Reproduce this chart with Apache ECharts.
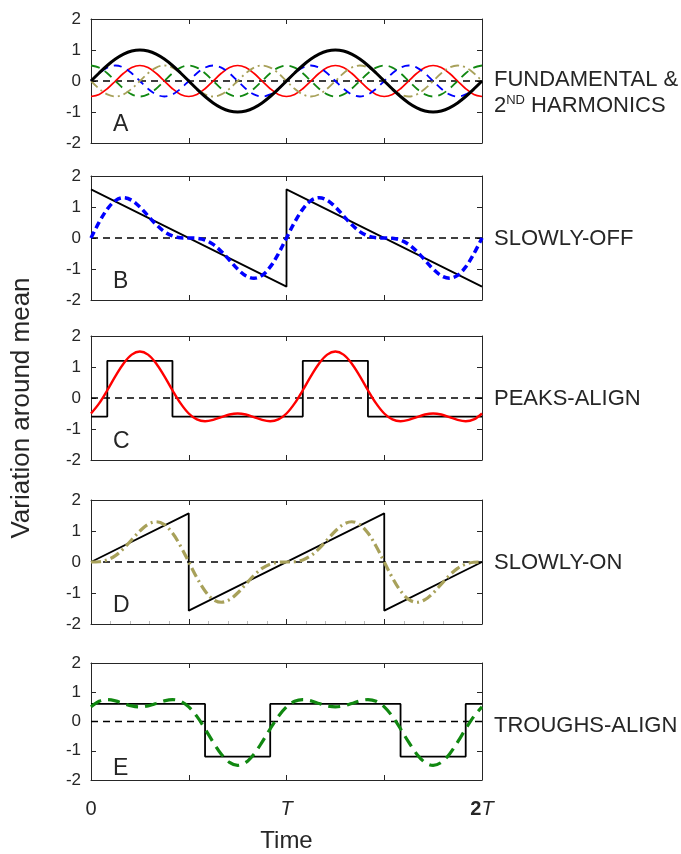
<!DOCTYPE html>
<html>
<head>
<meta charset="utf-8">
<script src="https://cdn.jsdelivr.net/npm/echarts@6/dist/echarts.min.js"></script>
<style>
  html, body { margin: 0; padding: 0; background: #fff; }
  #chart { width: 681px; height: 854px; }
</style>
</head>
<body>
<div id="chart"></div>
<script>
// Samples are taken every T/24 over two periods (0 .. 2T), time measured in units of T.
const samplesPerPeriod = 24;

// Panel A: fundamental and the four second-harmonic phases
const fundamental = [0, 0.259, 0.5, 0.707, 0.866, 0.966, 1, 0.966, 0.866, 0.707, 0.5, 0.259,
  0, -0.259, -0.5, -0.707, -0.866, -0.966, -1, -0.966, -0.866, -0.707, -0.5, -0.259,
  0, 0.259, 0.5, 0.707, 0.866, 0.966, 1, 0.966, 0.866, 0.707, 0.5, 0.259,
  0, -0.259, -0.5, -0.707, -0.866, -0.966, -1, -0.966, -0.866, -0.707, -0.5, -0.259, 0];
const harmonicRed = [-0.5, -0.433, -0.25, 0, 0.25, 0.433, 0.5, 0.433, 0.25, 0, -0.25, -0.433,
  -0.5, -0.433, -0.25, 0, 0.25, 0.433, 0.5, 0.433, 0.25, 0, -0.25, -0.433,
  -0.5, -0.433, -0.25, 0, 0.25, 0.433, 0.5, 0.433, 0.25, 0, -0.25, -0.433,
  -0.5, -0.433, -0.25, 0, 0.25, 0.433, 0.5, 0.433, 0.25, 0, -0.25, -0.433, -0.5];
const harmonicGreen = [0.5, 0.433, 0.25, 0, -0.25, -0.433, -0.5, -0.433, -0.25, 0, 0.25, 0.433,
  0.5, 0.433, 0.25, 0, -0.25, -0.433, -0.5, -0.433, -0.25, 0, 0.25, 0.433,
  0.5, 0.433, 0.25, 0, -0.25, -0.433, -0.5, -0.433, -0.25, 0, 0.25, 0.433,
  0.5, 0.433, 0.25, 0, -0.25, -0.433, -0.5, -0.433, -0.25, 0, 0.25, 0.433, 0.5];
const harmonicBlue = [0, 0.25, 0.433, 0.5, 0.433, 0.25, 0, -0.25, -0.433, -0.5, -0.433, -0.25,
  0, 0.25, 0.433, 0.5, 0.433, 0.25, 0, -0.25, -0.433, -0.5, -0.433, -0.25,
  0, 0.25, 0.433, 0.5, 0.433, 0.25, 0, -0.25, -0.433, -0.5, -0.433, -0.25,
  0, 0.25, 0.433, 0.5, 0.433, 0.25, 0, -0.25, -0.433, -0.5, -0.433, -0.25, 0];
const harmonicOlive = [0, -0.25, -0.433, -0.5, -0.433, -0.25, 0, 0.25, 0.433, 0.5, 0.433, 0.25,
  0, -0.25, -0.433, -0.5, -0.433, -0.25, 0, 0.25, 0.433, 0.5, 0.433, 0.25,
  0, -0.25, -0.433, -0.5, -0.433, -0.25, 0, 0.25, 0.433, 0.5, 0.433, 0.25,
  0, -0.25, -0.433, -0.5, -0.433, -0.25, 0, 0.25, 0.433, 0.5, 0.433, 0.25, 0];

// Panel B: slowly-off
const slowlyOffCurve = [0, 0.509, 0.933, 1.207, 1.299, 1.216, 1, 0.716, 0.433, 0.207, 0.067, 0.009,
  0, -0.009, -0.067, -0.207, -0.433, -0.716, -1, -1.216, -1.299, -1.207, -0.933, -0.509,
  0, 0.509, 0.933, 1.207, 1.299, 1.216, 1, 0.716, 0.433, 0.207, 0.067, 0.009,
  0, -0.009, -0.067, -0.207, -0.433, -0.716, -1, -1.216, -1.299, -1.207, -0.933, -0.509, 0];
const slowlyOffTimes = [0, 1, 1, 2];
const slowlyOffShape = [1.57, -1.57, 1.57, -1.57];

// Panel C: peaks-align
const peaksAlignCurve = [-0.5, -0.174, 0.25, 0.707, 1.116, 1.399, 1.5, 1.399, 1.116, 0.707, 0.25, -0.174,
  -0.5, -0.692, -0.75, -0.707, -0.616, -0.533, -0.5, -0.533, -0.616, -0.707, -0.75, -0.692,
  -0.5, -0.174, 0.25, 0.707, 1.116, 1.399, 1.5, 1.399, 1.116, 0.707, 0.25, -0.174,
  -0.5, -0.692, -0.75, -0.707, -0.616, -0.533, -0.5, -0.533, -0.616, -0.707, -0.75, -0.692, -0.5];
const peaksAlignTimes = [0, 1/12, 1/12, 5/12, 5/12, 13/12, 13/12, 17/12, 17/12, 2];
const peaksAlignShape = [-0.6, -0.6, 1.2, 1.2, -0.6, -0.6, 1.2, 1.2, -0.6, -0.6];

// Panel D: slowly-on
const slowlyOnCurve = [0, 0.009, 0.067, 0.207, 0.433, 0.716, 1, 1.216, 1.299, 1.207, 0.933, 0.509,
  0, -0.509, -0.933, -1.207, -1.299, -1.216, -1, -0.716, -0.433, -0.207, -0.067, -0.009,
  0, 0.009, 0.067, 0.207, 0.433, 0.716, 1, 1.216, 1.299, 1.207, 0.933, 0.509,
  0, -0.509, -0.933, -1.207, -1.299, -1.216, -1, -0.716, -0.433, -0.207, -0.067, -0.009, 0];
const slowlyOnTimes = [0, 0.5, 0.5, 1.5, 1.5, 2];
const slowlyOnShape = [0, 1.57, -1.57, 1.57, -1.57, 0];

// Panel E: troughs-align
const troughsAlignCurve = [0.5, 0.692, 0.75, 0.707, 0.616, 0.533, 0.5, 0.533, 0.616, 0.707, 0.75, 0.692,
  0.5, 0.174, -0.25, -0.707, -1.116, -1.399, -1.5, -1.399, -1.116, -0.707, -0.25, 0.174,
  0.5, 0.692, 0.75, 0.707, 0.616, 0.533, 0.5, 0.533, 0.616, 0.707, 0.75, 0.692,
  0.5, 0.174, -0.25, -0.707, -1.116, -1.399, -1.5, -1.399, -1.116, -0.707, -0.25, 0.174, 0.5];
const troughsAlignTimes = [0, 7/12, 7/12, 11/12, 11/12, 19/12, 19/12, 23/12, 23/12, 2];
const troughsAlignShape = [0.6, 0.6, -1.2, -1.2, 0.6, 0.6, -1.2, -1.2, 0.6, 0.6];

const panelLetters = ['A', 'B', 'C', 'D', 'E'];
const panelNames = ['FUNDAMENTAL &', 'SLOWLY-OFF', 'PEAKS-ALIGN', 'SLOWLY-ON', 'TROUGHS-ALIGN'];

// ---- layout & styling ----
const FONT = '"Liberation Sans", Arial, Helvetica, sans-serif';
const INK = '#262626';
const GRID_LEFT = 91, GRID_WIDTH = 391, GRID_HEIGHT = 124;
const panelTops = [19, 176, 336, 500, 663];
const LABEL_X = 494;

const sampled = vals => vals.map((v, k) => [k / samplesPerPeriod, v]);
const paired = (ts, vs) => ts.map((t, k) => [t, vs[k]]);

const grids = [], xAxes = [], yAxes = [], series = [], graphics = [];

panelTops.forEach((top, i) => {
  grids.push({ left: GRID_LEFT, top: top, width: GRID_WIDTH, height: GRID_HEIGHT });
  const isLast = i === panelTops.length - 1;
  const baseX = {
    type: 'value', gridIndex: i, min: 0, max: 2, interval: 0.5,
    axisLine: { show: true, onZero: false, lineStyle: { color: INK, width: 1 } },
    axisTick: { show: true, inside: true, length: 5, lineStyle: { color: INK } },
    splitLine: { show: false }
  };
  xAxes.push(Object.assign({}, baseX, {
    position: 'bottom',
    // faint minor ticks along the bottom edge of panel D
    minorTick: { show: i === 3, splitNumber: 5, length: 3, lineStyle: { color: '#bbbbbb', width: 1 } },
    axisLabel: {
      show: isLast, margin: 19, fontSize: 20, color: INK, fontFamily: FONT,
      formatter: v => v === 0 ? '0' : (v === 1 ? '{it|T}' : (v === 2 ? '{n|2}{it|T}' : '')),
      rich: {
        it: { fontStyle: 'italic', fontSize: 20, color: INK, fontFamily: FONT },
        n: { fontSize: 20, fontWeight: 'bold', color: INK, fontFamily: FONT }
      }
    },
    name: isLast ? 'Time' : '', nameLocation: 'middle', nameGap: 49,
    nameTextStyle: { fontSize: 24, color: INK, fontFamily: FONT }
  }));
  xAxes.push(Object.assign({}, baseX, { position: 'top', axisLabel: { show: false } }));

  const baseY = {
    type: 'value', gridIndex: i, min: -2, max: 2, interval: 1,
    axisLine: { show: true, onZero: false, lineStyle: { color: INK, width: 1 } },
    axisTick: { show: true, inside: true, length: 5, lineStyle: { color: INK } },
    splitLine: { show: false }
  };
  yAxes.push(Object.assign({}, baseY, {
    position: 'left',
    axisLabel: { show: true, margin: 10, fontSize: 17, color: INK, fontFamily: FONT }
  }));
  yAxes.push(Object.assign({}, baseY, { position: 'right', axisLabel: { show: false } }));

  // dashed zero reference
  series.push({
    type: 'line', xAxisIndex: 2 * i, yAxisIndex: 2 * i, symbol: 'none', silent: true,
    data: [[0, 0], [2, 0]],
    lineStyle: { color: '#000', width: 1.3, type: [7, 5] }
  });

  graphics.push({
    type: 'text', x: GRID_LEFT + 22, y: top + 106,
    style: { text: panelLetters[i], fontSize: 23, fill: INK, fontFamily: FONT,
             textVerticalAlign: 'middle' }
  });
});

// Right-hand panel names, centred on each panel's zero line
graphics.push({
  type: 'text', x: LABEL_X, y: panelTops[0] + 61,
  style: { text: 'FUNDAMENTAL &', fontSize: 22, fill: INK, fontFamily: FONT, textVerticalAlign: 'middle' }
});
graphics.push({
  type: 'text', x: LABEL_X, y: panelTops[0] + 86,
  style: {
    text: '{n|2}{sup|ND}{n| HARMONICS}', fill: INK, fontFamily: FONT, textVerticalAlign: 'middle',
    rich: {
      n: { fontSize: 22, fill: INK, fontFamily: FONT, verticalAlign: 'bottom' },
      sup: { fontSize: 13, fill: INK, fontFamily: FONT, verticalAlign: 'top', padding: [0, 0, 10, 0] }
    }
  }
});
[1, 2, 3, 4].forEach(i => {
  graphics.push({
    type: 'text', x: LABEL_X, y: panelTops[i] + 63,
    style: { text: panelNames[i], fontSize: 22, fill: INK, fontFamily: FONT, textVerticalAlign: 'middle' }
  });
});

// Y title
graphics.push({
  type: 'text', x: 22, y: 408, rotation: Math.PI / 2,
  style: { text: 'Variation around mean', fontSize: 26, fill: INK, fontFamily: FONT,
           textAlign: 'center', textVerticalAlign: 'middle' }
});

function curve(panel, data, color, width, type) {
  series.push({
    type: 'line', xAxisIndex: 2 * panel, yAxisIndex: 2 * panel, symbol: 'none',
    smooth: 0.35, data: data, lineStyle: { color: color, width: width, type: type }
  });
}
function shape(panel, data) {
  series.push({
    type: 'line', xAxisIndex: 2 * panel, yAxisIndex: 2 * panel, symbol: 'none',
    data: data, lineStyle: { color: '#000', width: 1.8, type: 'solid' }
  });
}

const RED = '#ff0000', BLUE = '#0000ff', GREEN = '#118811', OLIVE = '#a8a15a';

// Panel A
curve(0, sampled(harmonicRed), RED, 1.7, 'solid');
curve(0, sampled(harmonicGreen), GREEN, 1.8, [9, 6]);
curve(0, sampled(harmonicBlue), BLUE, 1.8, [8, 6]);
curve(0, sampled(harmonicOlive), OLIVE, 1.8, [9, 4, 2, 4]);
curve(0, sampled(fundamental), '#000', 3, 'solid');

// Panel B
shape(1, paired(slowlyOffTimes, slowlyOffShape));
curve(1, sampled(slowlyOffCurve), BLUE, 3.5, [7, 4]);

// Panel C
shape(2, paired(peaksAlignTimes, peaksAlignShape));
curve(2, sampled(peaksAlignCurve), RED, 2.4, 'solid');

// Panel D
shape(3, paired(slowlyOnTimes, slowlyOnShape));
curve(3, sampled(slowlyOnCurve), OLIVE, 3.2, [10, 4, 2, 4]);

// Panel E
shape(4, paired(troughsAlignTimes, troughsAlignShape));
curve(4, sampled(troughsAlignCurve), GREEN, 3.2, [12, 7]);

const chart = echarts.init(document.getElementById('chart'), null, { renderer: 'canvas' });
chart.setOption({
  animation: false,
  backgroundColor: '#fff',
  textStyle: { fontFamily: FONT },
  grid: grids, xAxis: xAxes, yAxis: yAxes, series: series, graphic: graphics
});
</script>
</body>
</html>
